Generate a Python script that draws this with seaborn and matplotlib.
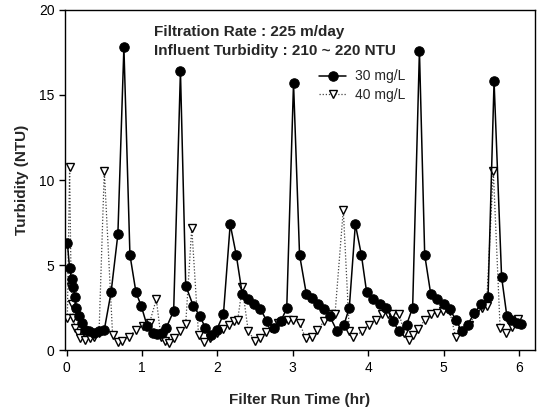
import matplotlib
matplotlib.use("Agg")
import matplotlib.pyplot as plt
import seaborn as sns
import pandas as pd

# ---- data ----
time_30 = [0.01, 0.04, 0.065, 0.09, 0.11, 0.13, 0.16, 0.20, 0.24, 0.30, 0.36, 0.43, 0.50,
           0.59, 0.68, 0.76, 0.84, 0.92, 0.99, 1.07, 1.14, 1.20, 1.26, 1.32, 1.42, 1.51,
           1.58, 1.68, 1.77, 1.84, 1.92, 1.99, 2.08, 2.17, 2.25, 2.33, 2.41, 2.48, 2.57,
           2.66, 2.75, 2.84, 2.92, 3.01, 3.09, 3.18, 3.26, 3.33, 3.42, 3.49, 3.59, 3.68,
           3.75, 3.83, 3.91, 3.98, 4.07, 4.16, 4.24, 4.33, 4.41, 4.51, 4.59, 4.68, 4.75,
           4.83, 4.91, 5.01, 5.08, 5.17, 5.24, 5.32, 5.41, 5.50, 5.59, 5.67, 5.77, 5.84,
           5.90, 5.97, 6.03]
turb_30 = [6.3, 4.8, 4.2, 3.7, 3.1, 2.5, 2.0, 1.6, 1.2, 1.1, 1.0, 1.1, 1.2,
           3.4, 6.8, 17.8, 5.6, 3.4, 2.6, 1.4, 1.0, 0.95, 1.0, 1.3, 2.3, 16.4,
           3.8, 2.6, 2.0, 1.3, 0.9, 1.2, 2.1, 7.4, 5.6, 3.3, 3.0, 2.7, 2.4,
           1.7, 1.3, 1.7, 2.45, 15.7, 5.6, 3.3, 3.05, 2.7, 2.4, 2.0, 1.1, 1.5,
           2.5, 7.4, 5.6, 3.4, 3.0, 2.7, 2.5, 1.7, 1.1, 1.5, 2.5, 17.6, 5.6,
           3.3, 3.0, 2.7, 2.4, 1.75, 1.1, 1.5, 2.2, 2.7, 3.1, 15.8, 4.3, 2.0,
           1.8, 1.6, 1.55]

time_40 = [0.01, 0.04, 0.06, 0.075, 0.09, 0.11, 0.15, 0.18, 0.24, 0.31, 0.37, 0.43, 0.50,
           0.61, 0.68, 0.74, 0.83, 0.92, 1.01, 1.10, 1.19, 1.25, 1.30, 1.36, 1.42, 1.51,
           1.58, 1.66, 1.75, 1.82, 1.90, 1.99, 2.08, 2.16, 2.22, 2.27, 2.33, 2.41, 2.50,
           2.56, 2.64, 2.71, 2.80, 2.88, 2.94, 3.00, 3.09, 3.17, 3.26, 3.32, 3.42, 3.50,
           3.56, 3.67, 3.75, 3.80, 3.92, 4.01, 4.10, 4.19, 4.26, 4.32, 4.41, 4.48, 4.54,
           4.59, 4.66, 4.75, 4.84, 4.91, 4.99, 5.08, 5.16, 5.25, 5.34, 5.42, 5.51, 5.57,
           5.66, 5.75, 5.83, 5.91, 5.99]
turb_40 = [1.9, 10.75, 3.7, 2.7, 1.9, 1.3, 1.0, 0.7, 0.6, 0.7, 0.8, 1.0, 10.55,
           0.9, 0.5, 0.55, 0.8, 1.2, 1.4, 1.6, 3.0, 0.8, 0.55, 0.45, 0.7, 1.1,
           1.55, 7.2, 0.9, 0.5, 0.7, 1.0, 1.25, 1.5, 1.7, 1.8, 3.7, 1.1, 0.55,
           0.7, 1.05, 1.3, 1.6, 1.7, 1.75, 1.75, 1.6, 0.7, 0.8, 1.2, 1.7, 2.1,
           2.1, 8.25, 1.1, 0.75, 1.1, 1.5, 1.8, 2.1, 2.15, 2.1, 2.15, 1.0, 0.6,
           0.9, 1.25, 1.75, 2.15, 2.2, 2.3, 2.3, 0.8, 1.1, 1.5, 2.1, 2.5, 2.6,
           10.55, 1.3, 1.0, 1.35, 1.85]

series_labels = ["30 mg/L", "40 mg/L"]
x_ticks = [0, 1, 2, 3, 4, 5, 6]
y_ticks = [0, 5, 10, 15, 20]
annot_lines = ["Filtration Rate : 225 m/day", "Influent Turbidity : 210 ~ 220 NTU"]

# ---- figure ----
sns.set_style("ticks")
plt.rcParams['font.family'] = ['Liberation Sans', 'DejaVu Sans']

fig = plt.figure(figsize=(5.38, 4.11), dpi=100)
ax = fig.add_axes([0.121, 0.148, 0.873, 0.828])

df30 = pd.DataFrame({"time": time_30, "turb": turb_30})
df40 = pd.DataFrame({"time": time_40, "turb": turb_40})

sns.lineplot(data=df40, x="time", y="turb", ax=ax, sort=False, estimator=None,
             color="#444444", linestyle=(0, (1, 1.5)), linewidth=0.9,
             marker="v", markersize=6, markerfacecolor="white",
             markeredgecolor="black", markeredgewidth=1.0, label=series_labels[1])
sns.lineplot(data=df30, x="time", y="turb", ax=ax, sort=False, estimator=None,
             color="black", linewidth=1.1,
             marker="o", markersize=6.8, markerfacecolor="black",
             markeredgecolor="black", label=series_labels[0])

ax.set_xlim(-0.02, 6.21)
ax.set_ylim(0, 20)
ax.set_xticks(x_ticks)
ax.set_yticks(y_ticks)
ax.tick_params(axis="both", labelsize=10, direction="out", length=4, width=1, colors="black")
for s in ax.spines.values():
    s.set_visible(True)
    s.set_color("black")
    s.set_linewidth(1.0)

ax.set_xlabel("Filter Run Time (hr)", fontsize=11, fontweight="bold", labelpad=13)
ax.set_ylabel("Turbidity (NTU)", fontsize=11, fontweight="bold", labelpad=7)

ax.text(0.19, 0.935, annot_lines[0], transform=ax.transAxes, fontsize=11,
        fontweight="bold", va="center", ha="left")
ax.text(0.19, 0.88, annot_lines[1], transform=ax.transAxes, fontsize=11,
        fontweight="bold", va="center", ha="left")

handles, labels = ax.get_legend_handles_labels()
order = [labels.index(series_labels[0]), labels.index(series_labels[1])]
ax.legend([handles[i] for i in order], [labels[i] for i in order],
          loc="upper left", bbox_to_anchor=(0.54, 0.825), frameon=False,
          fontsize=10, handlelength=2.0, borderpad=0, borderaxespad=0,
          labelspacing=0.3, handletextpad=0.6)

fig.savefig("out.png", dpi=100)
